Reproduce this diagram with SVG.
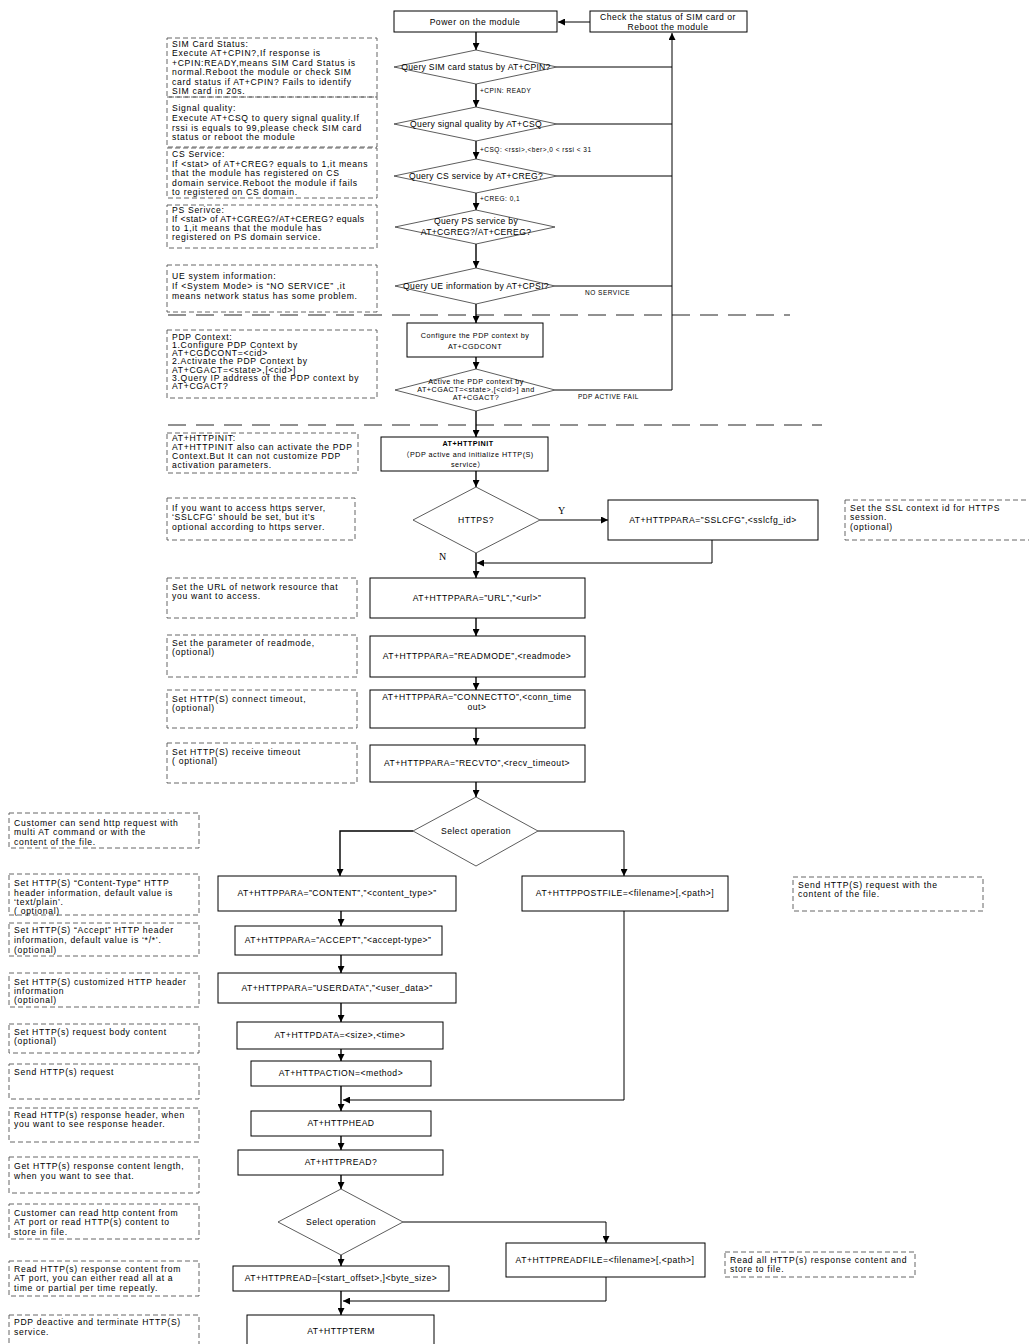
<svg xmlns="http://www.w3.org/2000/svg" width="1029" height="1344" viewBox="0 0 1029 1344">
<defs>
<marker id="ah" viewBox="0 0 10 10" refX="10" refY="5" markerWidth="7" markerHeight="7" markerUnits="userSpaceOnUse" orient="auto"><path d="M0,0 L10,5 L0,10 z" fill="#000"/></marker>
<style>
.box{fill:#fff;stroke:#000;stroke-width:1}
.dia{fill:#fff;stroke:#333;stroke-width:0.8}
.note{fill:none;stroke:#555;stroke-width:0.9;stroke-dasharray:5 3}
.sep{fill:none;stroke:#222;stroke-width:1;stroke-dasharray:18 10}
.ln{fill:none;stroke:#000;stroke-width:1.4}
.ln2{fill:none;stroke:#000;stroke-width:1}
.t{font-family:"Liberation Sans","Noto Sans CJK SC",sans-serif;font-size:8.6px;letter-spacing:0.5px;fill:#000}
.c{text-anchor:middle}
.n{font-size:8.6px;letter-spacing:0.7px}
.s{font-size:6.5px;letter-spacing:0.5px}
.sm{font-size:7.2px;letter-spacing:0.5px}
.yn{font-family:"Liberation Serif",serif;font-size:10px;fill:#000}
</style>
</defs>
<rect width="1029" height="1344" fill="#fff"/>

<!-- separators -->
<g id="separators">
<line class="sep" x1="168" y1="315" x2="790" y2="315"/>
<line class="sep" x1="168" y1="425" x2="822" y2="425"/>
</g>

<!-- connectors -->
<g id="connectors">
<line class="ln2" x1="590" y1="22" x2="558" y2="22" marker-end="url(#ah)"/>
<line class="ln" x1="476" y1="32" x2="476" y2="50" marker-end="url(#ah)"/>
<line class="ln" x1="476" y1="84" x2="476" y2="107" marker-end="url(#ah)"/>
<line class="ln" x1="476" y1="141" x2="476" y2="159" marker-end="url(#ah)"/>
<line class="ln" x1="476" y1="193" x2="476" y2="210" marker-end="url(#ah)"/>
<line class="ln" x1="476" y1="244" x2="476" y2="268" marker-end="url(#ah)"/>
<line class="ln" x1="476" y1="304" x2="476" y2="323" marker-end="url(#ah)"/>
<line class="ln" x1="476" y1="357" x2="476" y2="369" marker-end="url(#ah)"/>
<line class="ln" x1="476" y1="411" x2="476" y2="437" marker-end="url(#ah)"/>
<line class="ln2" x1="557" y1="67" x2="672" y2="67"/>
<line class="ln2" x1="557" y1="124" x2="672" y2="124"/>
<line class="ln2" x1="557" y1="176" x2="672" y2="176"/>
<line class="ln2" x1="555" y1="286" x2="672" y2="286"/>
<line class="ln2" x1="555" y1="390" x2="672" y2="390"/>
<line class="ln2" x1="672" y1="390" x2="672" y2="33" marker-end="url(#ah)"/>

<line class="ln" x1="476" y1="471" x2="476" y2="487" marker-end="url(#ah)"/>
<line class="ln2" x1="540" y1="520" x2="608" y2="520" marker-end="url(#ah)"/>
<polyline class="ln2" points="712,540 712,563 477,563" marker-end="url(#ah)"/>
<line class="ln" x1="476" y1="553" x2="476" y2="578" marker-end="url(#ah)"/>
<line class="ln" x1="476" y1="618" x2="476" y2="636" marker-end="url(#ah)"/>
<line class="ln" x1="476" y1="677" x2="476" y2="690" marker-end="url(#ah)"/>
<line class="ln" x1="476" y1="728" x2="476" y2="745" marker-end="url(#ah)"/>
<line class="ln" x1="476" y1="782" x2="476" y2="797" marker-end="url(#ah)"/>

<polyline class="ln" points="413,831 340,831 340,876" marker-end="url(#ah)"/>
<polyline class="ln2" points="538,831 624,831 624,876" marker-end="url(#ah)"/>
<line class="ln" x1="341" y1="911" x2="341" y2="926" marker-end="url(#ah)"/>
<line class="ln" x1="341" y1="955" x2="341" y2="973" marker-end="url(#ah)"/>
<line class="ln" x1="341" y1="1003" x2="341" y2="1022" marker-end="url(#ah)"/>
<line class="ln" x1="341" y1="1049" x2="341" y2="1061" marker-end="url(#ah)"/>
<line class="ln" x1="341" y1="1086" x2="341" y2="1111" marker-end="url(#ah)"/>
<polyline class="ln2" points="624,911 624,1100 343,1100" marker-end="url(#ah)"/>
<line class="ln" x1="341" y1="1136" x2="341" y2="1150" marker-end="url(#ah)"/>
<line class="ln" x1="341" y1="1175" x2="341" y2="1189" marker-end="url(#ah)"/>
<line class="ln" x1="341" y1="1255" x2="341" y2="1266" marker-end="url(#ah)"/>
<polyline class="ln2" points="403,1222 606,1222 606,1243" marker-end="url(#ah)"/>
<line class="ln" x1="341" y1="1291" x2="341" y2="1315" marker-end="url(#ah)"/>
<polyline class="ln2" points="606,1277 606,1301 343,1301" marker-end="url(#ah)"/>
</g>

<!-- connector labels -->
<g id="labels">
<text class="t s" x="480" y="93">+CPIN: READY</text>
<text class="t s" x="480" y="152">+CSQ: &lt;rssi&gt;,&lt;ber&gt;,0 &lt; rssi &lt; 31</text>
<text class="t s" x="480" y="201">+CREG: 0,1</text>
<text class="t s" x="585" y="295">NO SERVICE</text>
<text class="t s" x="578" y="399">PDP ACTIVE FAIL</text>
<text class="yn" x="558" y="514">Y</text>
<text class="yn" x="439" y="560">N</text>
</g>

<!-- top flow nodes -->
<g id="power"><rect class="box" x="394" y="11" width="163" height="21"/><text class="t c" x="475" y="25">Power on the module</text></g>
<g id="check"><rect class="box" x="590" y="11" width="157" height="21"/><text class="t c" x="668" y="20">Check the status of SIM card or</text><text class="t c" x="668" y="30">Reboot the module</text></g>
<g id="q-sim"><polygon class="dia" points="394,67 476,50 557,67 476,84"/><text class="t c" x="476" y="70" style="letter-spacing:0.3px">Query SIM card status by AT+CPIN?</text></g>
<g id="q-csq"><polygon class="dia" points="394,124 476,107 557,124 476,141"/><text class="t c" x="476" y="127" style="letter-spacing:0.3px">Query signal quality by AT+CSQ</text></g>
<g id="q-creg"><polygon class="dia" points="394,176 476,159 557,176 476,193"/><text class="t c" x="476" y="179" style="letter-spacing:0.3px">Query CS service by AT+CREG?</text></g>
<g id="q-cgreg"><polygon class="dia" points="395,227 476,210 555,227 476,244"/><text class="t c" x="476" y="224" style="letter-spacing:0.3px">Query PS service by</text><text class="t c" x="476" y="235" style="letter-spacing:0.3px">AT+CGREG?/AT+CEREG?</text></g>
<g id="q-cpsi"><polygon class="dia" points="395,286 476,268 555,286 476,304"/><text class="t c" x="476" y="289" style="letter-spacing:0.3px">Query UE information by AT+CPSI?</text></g>
<g id="cgdcont"><rect class="box" x="407" y="323" width="136" height="34"/><text class="t c sm" x="475" y="338">Configure the PDP context by</text><text class="t c sm" x="475" y="349">AT+CGDCONT</text></g>
<g id="cgact"><polygon class="dia" points="395,390 476,369 555,390 476,411"/><text class="t c sm" x="476" y="384">Active the PDP context by</text><text class="t c sm" x="476" y="392">AT+CGACT=&lt;state&gt;,[&lt;cid&gt;] and</text><text class="t c sm" x="476" y="400">AT+CGACT?</text></g>

<!-- HTTP flow nodes -->
<g id="httpinit"><rect class="box" x="381" y="437" width="167" height="34"/><text class="t c sm" x="468" y="446" style="font-weight:bold">AT+HTTPINIT</text><text class="t c sm" x="468" y="456.5">（PDP active and initialize HTTP(S)</text><text class="t c sm" x="468" y="467">service）</text></g>
<g id="https"><polygon class="dia" points="413,520 476,487 540,520 476,553"/><text class="t c" x="476" y="523">HTTPS?</text></g>
<g id="sslcfg"><rect class="box" x="608" y="500" width="210" height="40"/><text class="t c" x="713" y="523">AT+HTTPPARA=”SSLCFG”,&lt;sslcfg_id&gt;</text></g>
<g id="url"><rect class="box" x="370" y="578" width="215" height="40"/><text class="t c" x="477" y="601">AT+HTTPPARA=”URL”,”&lt;url&gt;”</text></g>
<g id="readmode"><rect class="box" x="370" y="636" width="215" height="41"/><text class="t c" x="477" y="659">AT+HTTPPARA=”READMODE”,&lt;readmode&gt;</text></g>
<g id="connectto"><rect class="box" x="370" y="690" width="215" height="38"/><text class="t c" x="477" y="700">AT+HTTPPARA=”CONNECTTO”,&lt;conn_time</text><text class="t c" x="477" y="710">out&gt;</text></g>
<g id="recvto"><rect class="box" x="370" y="745" width="215" height="37"/><text class="t c" x="477" y="766">AT+HTTPPARA=”RECVTO”,&lt;recv_timeout&gt;</text></g>
<g id="select1"><polygon class="dia" points="413,831 476,797 538,831 476,866"/><text class="t c" x="476" y="834">Select operation</text></g>
<g id="content"><rect class="box" x="218" y="876" width="238" height="35"/><text class="t c" x="337" y="896">AT+HTTPPARA=”CONTENT”,”&lt;content_type&gt;”</text></g>
<g id="postfile"><rect class="box" x="522" y="876" width="206" height="35"/><text class="t c" x="625" y="896">AT+HTTPPOSTFILE=&lt;filename&gt;[,&lt;path&gt;]</text></g>
<g id="accept"><rect class="box" x="235" y="926" width="207" height="29"/><text class="t c" x="338" y="943">AT+HTTPPARA=”ACCEPT”,”&lt;accept-type&gt;”</text></g>
<g id="userdata"><rect class="box" x="218" y="973" width="238" height="30"/><text class="t c" x="337" y="991">AT+HTTPPARA=”USERDATA”,”&lt;user_data&gt;”</text></g>
<g id="httpdata"><rect class="box" x="237" y="1022" width="206" height="27"/><text class="t c" x="340" y="1038">AT+HTTPDATA=&lt;size&gt;,&lt;time&gt;</text></g>
<g id="httpaction"><rect class="box" x="251" y="1061" width="180" height="25"/><text class="t c" x="341" y="1076">AT+HTTPACTION=&lt;method&gt;</text></g>
<g id="httphead"><rect class="box" x="251" y="1111" width="180" height="25"/><text class="t c" x="341" y="1126">AT+HTTPHEAD</text></g>
<g id="httpreadq"><rect class="box" x="238" y="1150" width="205" height="25"/><text class="t c" x="341" y="1165">AT+HTTPREAD?</text></g>
<g id="select2"><polygon class="dia" points="278,1222 341,1189 403,1222 341,1255"/><text class="t c" x="341" y="1225">Select operation</text></g>
<g id="httpread"><rect class="box" x="233" y="1266" width="216" height="25"/><text class="t c" x="341" y="1281">AT+HTTPREAD=[&lt;start_offset&gt;,]&lt;byte_size&gt;</text></g>
<g id="readfile"><rect class="box" x="506" y="1243" width="199" height="34"/><text class="t c" x="605" y="1263">AT+HTTPREADFILE=&lt;filename&gt;[,&lt;path&gt;]</text></g>
<g id="httpterm"><rect class="box" x="247" y="1315" width="187" height="40"/><text class="t c" x="341" y="1334">AT+HTTPTERM</text></g>

<!-- notes -->
<g id="note-sim"><rect class="note" x="167" y="38" width="210" height="59"/><text class="t n"><tspan x="172" y="46.5">SIM Card Status:</tspan><tspan x="172" y="56">Execute AT+CPIN?,If response is</tspan><tspan x="172" y="65.5">+CPIN:READY,means SIM Card Status is</tspan><tspan x="172" y="75">normal.Reboot the module or check SIM</tspan><tspan x="172" y="84.5">card status if AT+CPIN? Fails to identify</tspan><tspan x="172" y="94">SIM card in 20s.</tspan></text></g>
<g id="note-csq"><rect class="note" x="167" y="97" width="210" height="50"/><text class="t n"><tspan x="172" y="111">Signal quality:</tspan><tspan x="172" y="121">Execute AT+CSQ to query signal quality.If</tspan><tspan x="172" y="130.5">rssi is equals to 99,please check SIM card</tspan><tspan x="172" y="140">status or reboot the module</tspan></text></g>
<g id="note-cs"><rect class="note" x="167" y="148" width="210" height="50"/><text class="t n"><tspan x="172" y="157">CS Service:</tspan><tspan x="172" y="167">If &lt;stat&gt; of AT+CREG? equals to 1,it means</tspan><tspan x="172" y="176">that the module has registered on CS</tspan><tspan x="172" y="185.5">domain service.Reboot the module if fails</tspan><tspan x="172" y="195">to registered on CS domain.</tspan></text></g>
<g id="note-ps"><rect class="note" x="167" y="205" width="210" height="43"/><text class="t n"><tspan x="172" y="212.5">PS Serivce:</tspan><tspan x="172" y="222" style="letter-spacing:0.45px">If &lt;stat&gt; of AT+CGREG?/AT+CEREG? equals</tspan><tspan x="172" y="231">to 1,it means that the module has</tspan><tspan x="172" y="240">registered on PS domain service.</tspan></text></g>
<g id="note-ue"><rect class="note" x="167" y="265" width="210" height="47"/><text class="t n"><tspan x="172" y="278.5">UE system information:</tspan><tspan x="172" y="288.5">If &lt;System Mode&gt; is  “NO SERVICE” ,it</tspan><tspan x="172" y="298.5">means network status has some problem.</tspan></text></g>
<g id="note-pdp"><rect class="note" x="167" y="330" width="210" height="68"/><text class="t n"><tspan x="172" y="339.5">PDP Context:</tspan><tspan x="172" y="347.8">1.Configure PDP Context by</tspan><tspan x="172" y="356.1">AT+CGDCONT=&lt;cid&gt;</tspan><tspan x="172" y="364.4">2.Activate the PDP Context by</tspan><tspan x="172" y="372.7">AT+CGACT=&lt;state&gt;,[&lt;cid&gt;]</tspan><tspan x="172" y="381">3.Query IP address of the PDP context by</tspan><tspan x="172" y="389.3">AT+CGACT?</tspan></text></g>
<g id="note-init"><rect class="note" x="167" y="433" width="191" height="40"/><text class="t n"><tspan x="172" y="441">AT+HTTPINIT:</tspan><tspan x="172" y="450">AT+HTTPINIT also can activate the PDP</tspan><tspan x="172" y="459">Context.But It can not customize PDP</tspan><tspan x="172" y="468">activation parameters.</tspan></text></g>
<g id="note-https"><rect class="note" x="167" y="498" width="188" height="42"/><text class="t n"><tspan x="172" y="511">If you want to access https server,</tspan><tspan x="172" y="520">‘SSLCFG’ should  be set, but it’s</tspan><tspan x="172" y="529.5">optional according to https server.</tspan></text></g>
<g id="note-ssl"><rect class="note" x="845" y="500" width="190" height="40"/><text class="t n"><tspan x="850" y="511">Set the SSL context id for HTTPS</tspan><tspan x="850" y="520">session.</tspan><tspan x="850" y="529.5">(optional)</tspan></text></g>
<g id="note-url"><rect class="note" x="167" y="578" width="190" height="40"/><text class="t n"><tspan x="172" y="589.5">Set the URL of network resource that</tspan><tspan x="172" y="599">you want to access.</tspan></text></g>
<g id="note-readmode"><rect class="note" x="167" y="635" width="190" height="42"/><text class="t n"><tspan x="172" y="646">Set the parameter of readmode,</tspan><tspan x="172" y="655">(optional)</tspan></text></g>
<g id="note-conn"><rect class="note" x="167" y="690" width="190" height="38"/><text class="t n"><tspan x="172" y="702">Set HTTP(S) connect timeout,</tspan><tspan x="172" y="711">(optional)</tspan></text></g>
<g id="note-recv"><rect class="note" x="167" y="743" width="190" height="40"/><text class="t n"><tspan x="172" y="754.5">Set HTTP(S) receive timeout</tspan><tspan x="172" y="764">( optional)</tspan></text></g>

<g id="note-send"><rect class="note" x="9" y="813" width="190" height="35"/><text class="t n"><tspan x="14" y="825.5">Customer can send http request with</tspan><tspan x="14" y="835">multi AT command or  with the</tspan><tspan x="14" y="845">content of the file.</tspan></text></g>
<g id="note-ctype"><rect class="note" x="9" y="874" width="190" height="41"/><text class="t n"><tspan x="14" y="886">Set HTTP(S) “Content-Type” HTTP</tspan><tspan x="14" y="895.5">header information, default value is</tspan><tspan x="14" y="904.5">‘text/plain’.</tspan><tspan x="14" y="913.5">( optional)</tspan></text></g>
<g id="note-accept"><rect class="note" x="9" y="923" width="190" height="33"/><text class="t n"><tspan x="14" y="933">Set HTTP(S)  “Accept”  HTTP header</tspan><tspan x="14" y="943">information, default value is ‘*/*’.</tspan><tspan x="14" y="953">(optional)</tspan></text></g>
<g id="note-userdata"><rect class="note" x="9" y="973" width="190" height="34"/><text class="t n"><tspan x="14" y="984.5">Set HTTP(S) customized HTTP header</tspan><tspan x="14" y="994">information</tspan><tspan x="14" y="1003">(optional)</tspan></text></g>
<g id="note-body"><rect class="note" x="9" y="1024" width="190" height="29"/><text class="t n"><tspan x="14" y="1035">Set HTTP(s) request body content</tspan><tspan x="14" y="1044">(optional)</tspan></text></g>
<g id="note-action"><rect class="note" x="9" y="1064" width="190" height="35"/><text class="t n"><tspan x="14" y="1075">Send HTTP(s) request</tspan></text></g>
<g id="note-head"><rect class="note" x="9" y="1108" width="190" height="34"/><text class="t n"><tspan x="14" y="1118">Read HTTP(s) response header, when</tspan><tspan x="14" y="1127">you want to see response header.</tspan></text></g>
<g id="note-readq"><rect class="note" x="9" y="1157" width="190" height="36"/><text class="t n"><tspan x="14" y="1169">Get HTTP(s) response content length,</tspan><tspan x="14" y="1178.5">when you want to see that.</tspan></text></g>
<g id="note-select2"><rect class="note" x="9" y="1204" width="190" height="35"/><text class="t n"><tspan x="14" y="1215.5">Customer can read http content from</tspan><tspan x="14" y="1225">AT port or read HTTP(s) content to</tspan><tspan x="14" y="1234.5">store in file.</tspan></text></g>
<g id="note-read"><rect class="note" x="9" y="1261" width="190" height="35"/><text class="t n"><tspan x="14" y="1272">Read HTTP(s) response content from</tspan><tspan x="14" y="1281">AT port, you can either read all at a</tspan><tspan x="14" y="1291">time or partial per time repeatly.</tspan></text></g>
<g id="note-term"><rect class="note" x="9" y="1315" width="190" height="40"/><text class="t n"><tspan x="14" y="1325">PDP deactive and terminate HTTP(S)</tspan><tspan x="14" y="1335">service.</tspan></text></g>
<g id="note-postfile"><rect class="note" x="793" y="877" width="190" height="34"/><text class="t n"><tspan x="798" y="888">Send HTTP(S) request with the</tspan><tspan x="798" y="897">content of the file.</tspan></text></g>
<g id="note-readfile"><rect class="note" x="725" y="1252" width="190" height="25"/><text class="t n"><tspan x="730" y="1263">Read all HTTP(s) response content and</tspan><tspan x="730" y="1272">store to file.</tspan></text></g>
</svg>
